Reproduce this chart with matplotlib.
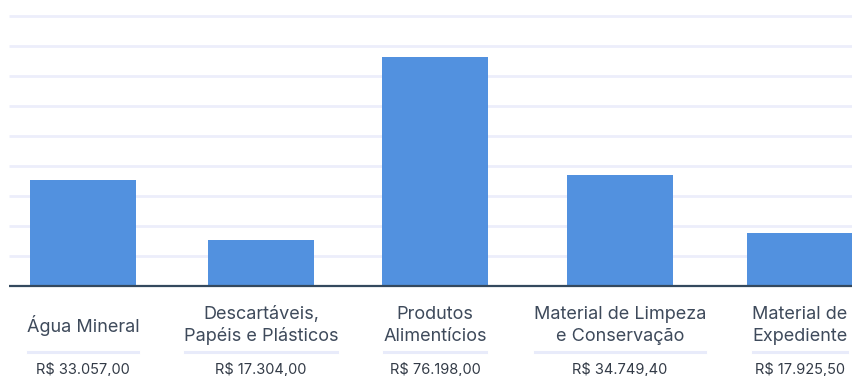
import matplotlib
matplotlib.use("Agg")
import matplotlib.pyplot as plt
from matplotlib.lines import Line2D

# categories, bar heights (thousands) and value labels
categories = ["Água Mineral", "Descartáveis,\nPapéis e Plásticos", "Produtos\nAlimentícios",
              "Material de Limpeza\ne Conservação", "Material de\nExpediente"]
bar_values = [35.3, 15.3, 76.3, 37.0, 17.7]
value_labels = ["R$ 33.057,00", "R$ 17.304,00", "R$ 76.198,00", "R$ 34.749,40", "R$ 17.925,50"]
grid_values = [10, 20, 30, 40, 50, 60, 70, 80, 90]

W, H = 853, 376
base_px = 286
centers = [83, 261, 435, 620, 800]   # pixel layout of the bands

plt.rcParams['font.family'] = ['Inter', 'DejaVu Sans']

fig = plt.figure(figsize=(W / 100, H / 100), dpi=100)
ax = fig.add_axes([0, (H - base_px) / H, 1, base_px / H])
ax.set_xlim(0, W)
ax.set_ylim(0, base_px / 30 * 10)
ax.axis("off")

ax.hlines(grid_values, 9, W, color="#eceefb", linewidth=2.0, zorder=1)
ax.bar(centers, bar_values, width=106, color="#5291df", zorder=2)
ax.hlines([0], 9, W, color="#34495e", linewidth=1.6, zorder=3, clip_on=False)

label_color = "#3e4a5b"
texts = []
for cx, cat, val in zip(centers, categories, value_labels):
    t = fig.text(cx / W, 1 - 325.5 / H, cat, ha="center", va="center",
                 fontsize=13, color=label_color, linespacing=1.35)
    texts.append(t)
    fig.text(cx / W, 1 - 369.5 / H, val, ha="center", va="center",
             fontsize=10.5, color="#333b47")

fig.canvas.draw()
r = fig.canvas.get_renderer()
for cx, t in zip(centers, texts):
    bb = t.get_window_extent(renderer=r)
    half = bb.width / 2 - 1
    fig.add_artist(Line2D([(cx - half) / W, (cx + half) / W], [1 - 352 / H] * 2,
                          transform=fig.transFigure, color="#e8ebfa", linewidth=2.2))

fig.savefig("out.png", dpi=100)
